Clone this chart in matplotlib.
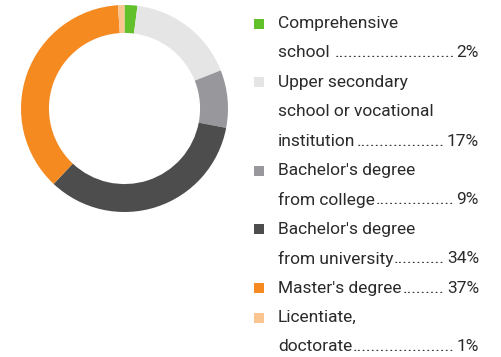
import matplotlib
matplotlib.use("Agg")
import matplotlib.pyplot as plt

# education levels, shares in percent
labels = [
    "Comprehensive\nschool ",
    "Upper secondary\nschool or vocational\ninstitution",
    "Bachelor's degree\nfrom college",
    "Bachelor's degree\nfrom university",
    "Master's degree",
    "Licentiate,\ndoctorate",
]
shares = [2, 17, 9, 34, 37, 1]
colors = ["#62c02a", "#e5e5e5", "#98979c", "#4d4d4d", "#f48a20", "#fbc592"]

W, H = 501, 357
fig = plt.figure(figsize=(W / 100, H / 100), dpi=100)

# donut
ax = fig.add_axes([21 / W, 1 - 212 / H, 207 / W, 207 / H])
ax.pie(shares, colors=colors, startangle=90, counterclock=False,
       wedgeprops=dict(width=0.27, linewidth=0))
ax.set_xlim(-1, 1)
ax.set_ylim(-1, 1)
ax.set_aspect("equal")
ax.axis("off")

# legend with dot leaders, drawn in pixel coordinates
lax = fig.add_axes([0, 0, 1, 1])
lax.set_xlim(0, W)
lax.set_ylim(H, 0)
lax.axis("off")

font = dict(family=["Roboto", "DejaVu Sans"], fontsize=12.5, color="#2a2a2a")
line_h = 29.4
y = 23.5
x_sq, x_txt, x_right = 254, 278, 479

fig.canvas.draw()
renderer = fig.canvas.get_renderer()
inv = lax.transData.inverted()


def text_width(s):
    t = lax.text(0, 0, s, **font)
    bb = t.get_window_extent(renderer)
    t.remove()
    p0 = inv.transform((bb.x0, 0))
    p1 = inv.transform((bb.x1, 0))
    return p1[0] - p0[0]


dot_w = text_width("." * 40) / 40

for label, share, color in zip(labels, shares, colors):
    lines = label.split("\n")
    lax.add_patch(plt.Rectangle((x_sq, y - 5), 10, 10, color=color, lw=0))
    for i, line in enumerate(lines):
        yy = y + i * line_h
        lax.text(x_txt, yy, line, va="center", ha="left", **font)
        if i < len(lines) - 1:
            continue
        value = f"{share}%"
        vw = text_width(value)
        lw = text_width(line.rstrip()) + (4 if line.endswith(" ") else 0)
        dots_end = x_right - vw - 2
        n = max(round((dots_end - x_txt - lw) / dot_w), 0)
        lax.text(dots_end, yy, "." * n, va="center", ha="right", **font)
        lax.text(x_right, yy, value, va="center", ha="right", **font)
    y += len(lines) * line_h

fig.savefig("out.png", dpi=100)
